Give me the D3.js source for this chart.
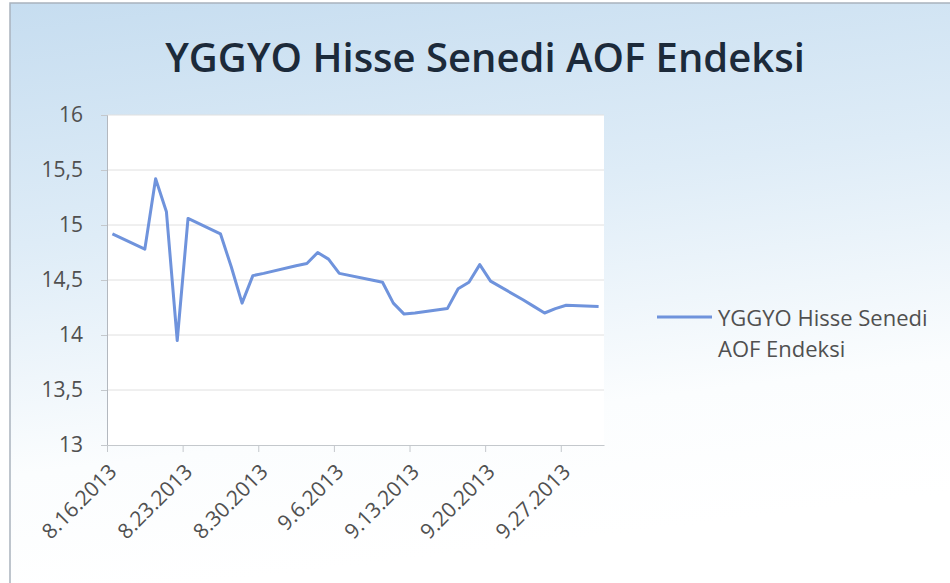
<!DOCTYPE html>
<html>
<head>
<meta charset="utf-8">
<script src="https://cdn.jsdelivr.net/npm/d3@7"></script>
<style>
  body { margin: 0; background: #fff; }
  svg text { font-family: "Open Sans", "Noto Sans", sans-serif; }
</style>
</head>
<body>
<script>
// seri verileri (tarih m.d.yyyy)
const dates = ["8.16.2013","8.19.2013","8.20.2013","8.21.2013","8.22.2013","8.23.2013",
  "8.26.2013","8.27.2013","8.28.2013","8.29.2013","8.30.2013",
  "9.2.2013","9.3.2013","9.4.2013","9.5.2013","9.6.2013",
  "9.9.2013","9.10.2013","9.11.2013","9.12.2013","9.13.2013",
  "9.16.2013","9.17.2013","9.18.2013","9.19.2013","9.20.2013",
  "9.23.2013","9.24.2013","9.25.2013","9.26.2013","9.27.2013","9.30.2013"];
const values = [14.92,14.78,15.42,15.12,13.95,15.06,
  14.92,14.62,14.29,14.54,14.56,
  14.63,14.65,14.75,14.69,14.56,
  14.50,14.48,14.29,14.19,14.20,
  14.24,14.42,14.48,14.64,14.49,
  14.32,14.26,14.20,14.24,14.27,14.26];
const xTickLabels = ["8.16.2013","8.23.2013","8.30.2013","9.6.2013","9.13.2013","9.20.2013","9.27.2013"];
const yTicks = [13,13.5,14,14.5,15,15.5,16];
const seriesName = "YGGYO Hisse Senedi AOF Endeksi";
const legendLines = ["YGGYO Hisse Senedi","AOF Endeksi"];

const W = 950, H = 583;
const parse = d3.utcParse("%m.%d.%Y");
const data = dates.map((d, i) => ({ date: parse(d), value: values[i] }));

const svg = d3.select("body").append("svg")
  .attr("width", W).attr("height", H);

const defs = svg.append("defs");
const grad = defs.append("linearGradient").attr("id", "bg")
  .attr("x1", 0).attr("y1", 0).attr("x2", 0.2).attr("y2", 1);
grad.append("stop").attr("offset", "0%").attr("stop-color", "#c6ddf0");
grad.append("stop").attr("offset", "40%").attr("stop-color", "#deecf7");
grad.append("stop").attr("offset", "78%").attr("stop-color", "#fbfdfe");
grad.append("stop").attr("offset", "100%").attr("stop-color", "#ffffff");

svg.append("rect").attr("x", 10).attr("y", 3).attr("width", W).attr("height", H)
  .attr("fill", "url(#bg)").attr("stroke", "#a9b3bd").attr("stroke-width", 1.5);

// grafik alanı
const pLeft = 107, pRight = 604, pTop = 115, pBottom = 445;
const halfDay = 12;
const x = d3.scaleUtc()
  .domain([d3.utcHour.offset(data[0].date, -halfDay), d3.utcHour.offset(data[data.length - 1].date, halfDay)])
  .range([pLeft, pRight]);
const y = d3.scaleLinear().domain([13, 16]).range([pBottom, pTop]);

svg.append("rect").attr("x", pLeft).attr("y", pTop)
  .attr("width", pRight - pLeft).attr("height", pBottom - pTop).attr("fill", "#fff");

// yatay kılavuz çizgileri
svg.append("g").selectAll("line").data(yTicks.slice(1)).join("line")
  .attr("x1", pLeft).attr("x2", pRight)
  .attr("y1", d => y(d)).attr("y2", d => y(d))
  .attr("stroke", "#e0e0e0").attr("stroke-width", 1);

// y ekseni
const yAxis = svg.append("g").attr("transform", `translate(${pLeft},0)`)
  .call(d3.axisLeft(y).tickValues(yTicks).tickSize(6).tickPadding(18)
    .tickFormat(d => String(d).replace(".", ",")));
yAxis.select(".domain").attr("stroke", "#b3b8bf");
yAxis.selectAll(".tick line").attr("stroke", "#c4c8cc");
yAxis.selectAll("text").attr("font-size", 21).attr("fill", "#505050")
  .attr("font-family", "Open Sans");

// x ekseni
const tickDates = xTickLabels.map(parse);
const xAxis = svg.append("g").attr("transform", `translate(0,${pBottom})`)
  .call(d3.axisBottom(x)
    .tickValues(tickDates.map(d => d3.utcHour.offset(d, -halfDay)))
    .tickSize(7).tickSizeOuter(0).tickFormat(""));
xAxis.select(".domain").attr("stroke", "#c4c8cc");
xAxis.selectAll(".tick line").attr("stroke", "#c4c8cc");

svg.append("g").selectAll("text").data(xTickLabels).join("text")
  .attr("transform", d => `translate(${x(d3.utcHour.offset(parse(d), -halfDay)) + 11},${pBottom + 28}) rotate(-45)`)
  .attr("text-anchor", "end")
  .attr("font-size", 21).attr("fill", "#505050")
  .text(d => d);

// seri çizgisi
const line = d3.line().x(d => x(d.date)).y(d => y(d.value));
svg.append("path").datum(data)
  .attr("d", line)
  .attr("fill", "none")
  .attr("stroke", "#6f93dc")
  .attr("stroke-width", 3)
  .attr("stroke-linejoin", "round");

// başlık
svg.append("text")
  .attr("x", 485).attr("y", 72)
  .attr("text-anchor", "middle")
  .attr("font-size", 40).attr("font-weight", 600)
  .attr("fill", "#1c2a3a")
  .text(seriesName);

// lejant
svg.append("line").attr("x1", 657).attr("x2", 712).attr("y1", 317).attr("y2", 317)
  .attr("stroke", "#6f93dc").attr("stroke-width", 3);
svg.append("g").selectAll("text").data(legendLines).join("text")
  .attr("x", 718).attr("y", (d, i) => 326 + i * 31)
  .attr("font-size", 22).attr("fill", "#505050")
  .text(d => d);
</script>
</body>
</html>
